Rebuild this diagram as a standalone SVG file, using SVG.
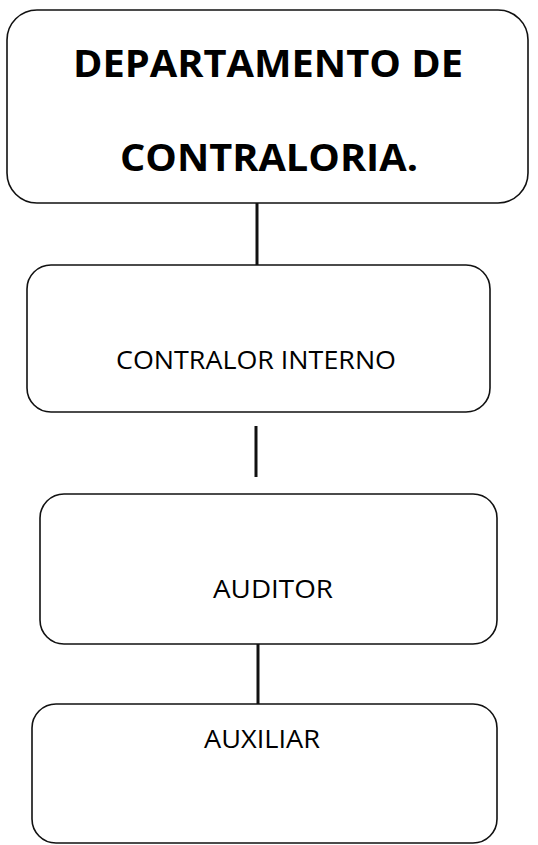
<svg xmlns="http://www.w3.org/2000/svg" width="538" height="845" viewBox="0 0 538 845">
<style>
.box{fill:#ffffff;stroke:#111111;stroke-width:1.6}
.conn{stroke:#111111;stroke-width:3;fill:none}
.t{font-family:"Open Sans","DejaVu Sans",sans-serif;fill:#000000;text-anchor:middle}
.title{font-size:37px;font-weight:bold}
.lbl{font-size:25px}
</style>
<rect width="538" height="845" fill="#ffffff"/>
<g id="connectors">
<line class="conn" x1="257" y1="203" x2="257" y2="265"/>
<line class="conn" x1="256" y1="426" x2="256" y2="477"/>
<line class="conn" x1="258" y1="644" x2="258" y2="704"/>
</g>
<g id="node-departamento">
<rect class="box" x="7" y="10" width="521" height="193" rx="30" ry="30"/>
<text class="t title" x="268" y="77" textLength="390" lengthAdjust="spacingAndGlyphs">DEPARTAMENTO DE</text>
<text class="t title" x="269" y="171" textLength="298" lengthAdjust="spacingAndGlyphs">CONTRALORIA.</text>
</g>
<g id="node-contralor">
<rect class="box" x="27" y="265" width="463" height="147" rx="24" ry="24"/>
<text class="t lbl" x="256" y="369" textLength="280" lengthAdjust="spacingAndGlyphs">CONTRALOR INTERNO</text>
</g>
<g id="node-auditor">
<rect class="box" x="40" y="494" width="457" height="150" rx="24" ry="24"/>
<text class="t lbl" x="273" y="598" textLength="120" lengthAdjust="spacingAndGlyphs">AUDITOR</text>
</g>
<g id="node-auxiliar">
<rect class="box" x="32" y="704" width="465" height="139" rx="24" ry="24"/>
<text class="t lbl" x="262" y="748" textLength="116" lengthAdjust="spacingAndGlyphs">AUXILIAR</text>
</g>
</svg>
